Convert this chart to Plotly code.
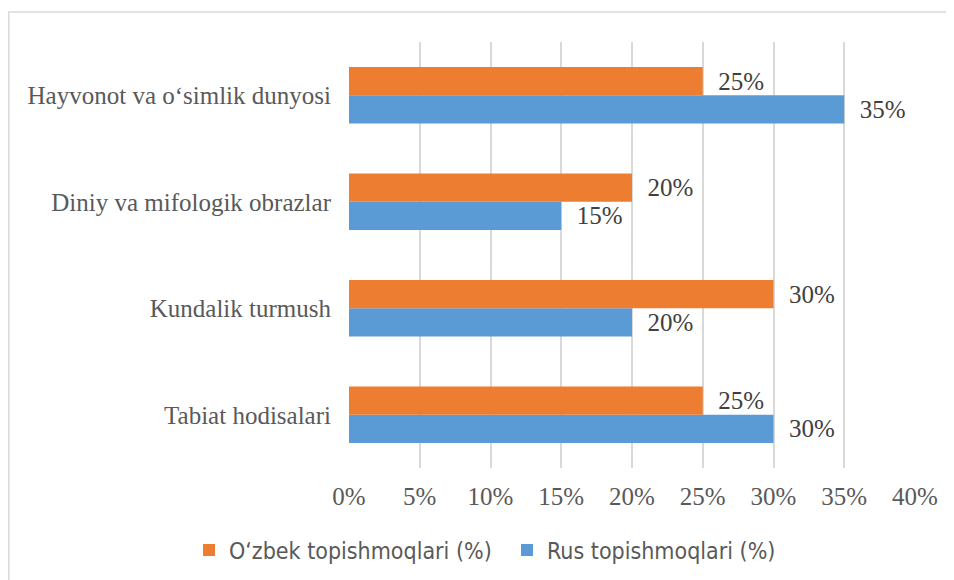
import plotly.graph_objects as go

categories = ["Tabiat hodisalari", "Kundalik turmush", "Diniy va mifologik obrazlar", "Hayvonot va o‘simlik dunyosi"]
uzbek = [25, 30, 20, 25]
rus = [30, 20, 15, 35]
tick_vals = [0, 5, 10, 15, 20, 25, 30, 35, 40]
tick_text = ["0%", "5%", "10%", "15%", "20%", "25%", "30%", "35%", "40%"]

# page has an 8px body margin; figure sized to fit the 954x580 window
W, H = 946, 572
L, R, T, B = 341, 907, 34, 460

serif = "'Liberation Serif', 'Times New Roman', serif"
narrow = "'DejaVu Sans Condensed', 'Liberation Sans Narrow', sans-serif"
txtcol = "#595959"

fig = go.Figure()
fig.add_trace(go.Bar(
    y=categories, x=rus, orientation="h", name="Rus topishmoqlari (%)",
    marker=dict(color="#5B9BD5", line=dict(width=0)),
    text=[f"{v}%" for v in rus], textposition="outside",
    texttemplate="  %{text}",
    textfont=dict(family=serif, size=25, color="#404040"),
    cliponaxis=False, legendrank=2,
))
fig.add_trace(go.Bar(
    y=categories, x=uzbek, orientation="h", name="O‘zbek topishmoqlari (%)",
    marker=dict(color="#ED7D31", line=dict(width=0)),
    text=[f"{v}%" for v in uzbek], textposition="outside",
    texttemplate="  %{text}",
    textfont=dict(family=serif, size=25, color="#404040"),
    cliponaxis=False, legendrank=1,
))

fig.update_layout(
    width=W, height=H,
    margin=dict(l=L, r=W - R, t=T, b=H - B, autoexpand=False),
    barmode="group", bargap=0.47, bargroupgap=0,
    plot_bgcolor="white", paper_bgcolor="white",
    font=dict(family=serif, size=25, color=txtcol),
    showlegend=True,
    legend=dict(orientation="h", x=(181 - L) / (R - L), xanchor="left",
                y=-0.1925, yanchor="middle",
                font=dict(family=narrow, size=23, color=txtcol),
                itemwidth=30, entrywidth=273, traceorder="normal"),
    xaxis=dict(range=[0, 40], tickvals=tick_vals, ticktext=tick_text,
               showgrid=True, gridcolor="#D9D9D9", gridwidth=1.5,
               zeroline=False, showline=False, ticks="",
               tickfont=dict(family=serif, size=25, color=txtcol), ticklabelstandoff=11),
    yaxis=dict(categoryorder="array", categoryarray=categories,
               showgrid=False, zeroline=False, showline=False, ticks="",
               tickfont=dict(family=serif, size=25, color=txtcol), ticklabelstandoff=17),
)

# Chart frame border
x0 = (0.8 - L) / (R - L)
x1 = (980 - L) / (R - L)
y1 = (B - 4) / (B - T)
y0 = (B - 620) / (B - T)
fig.add_shape(type="rect", xref="paper", yref="paper", x0=x0, x1=x1, y0=y0, y1=y1,
              line=dict(color="#D9D9D9", width=1.5), fillcolor="rgba(0,0,0,0)", layer="below")

fig.write_html("out.html")
